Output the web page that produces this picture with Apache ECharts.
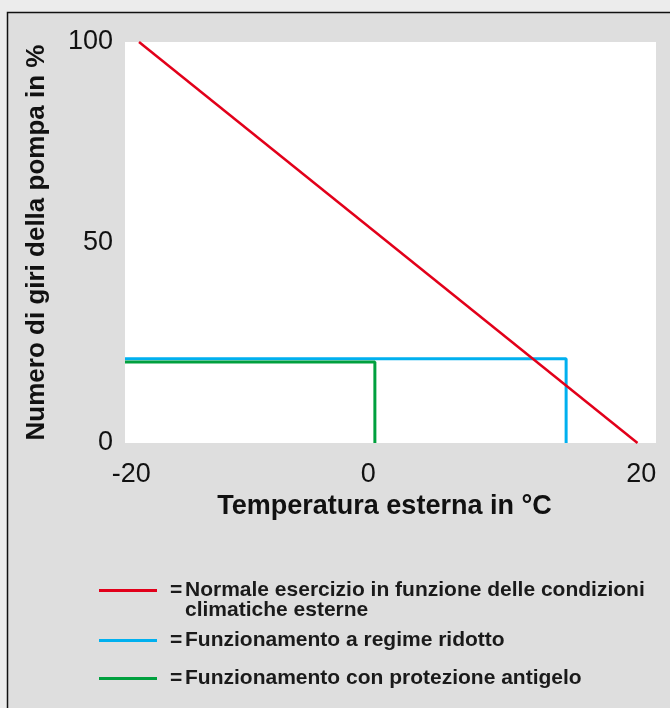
<!DOCTYPE html>
<html>
<head>
<meta charset="utf-8">
<script src="https://cdn.jsdelivr.net/npm/echarts@6/dist/echarts.min.js"></script>
<style>
html,body{margin:0;padding:0;background:#ececec;}
#c{width:670px;height:708px;}
</style>
</head>
<body>
<div id="c"></div>
<script>
// ---- data ----
const xTickLabels = [-20, 0, 20];
const yTickLabels = [0, 50, 100];
const seriesNames = [
  'Normale esercizio in funzione delle condizioni climatiche esterne',
  'Funzionamento a regime ridotto',
  'Funzionamento con protezione antigelo'
];
// temperature (°C), pump speed (%)
const normalX = [-19.4, 19.7];
const normalY = [100, 0];
const reducedX = [-20.5, 14.1, 14.1];
const reducedY = [21, 21, 0];
const antifreezeX = [-20.5, -0.9, -0.9];
const antifreezeY = [20.2, 20.2, 0];

const pairs = (xs, ys) => xs.map((x, i) => [x, ys[i]]);

const colors = ['#e2001a', '#00b0ef', '#00a03e'];
const FONT = '"Liberation Sans", Arial, sans-serif';

const chart = echarts.init(document.getElementById('c'));
const LFS = 21, LLH = 20;
const legendRich = {
  eq: { width: 15, padding: [0, 0, 0, 8], fontSize: LFS, fontWeight: 'bold', color: '#1a1a1a', fontFamily: FONT, lineHeight: LLH },
  t: { fontSize: LFS, fontWeight: 'bold', color: '#1a1a1a', fontFamily: FONT, lineHeight: LLH }
};
const legendText = {};
legendText[seriesNames[0]] = '\n{eq|=}{t|Normale esercizio in funzione delle condizioni}\n{eq| }{t|climatiche esterne}';
legendText[seriesNames[1]] = '{eq|=}{t|Funzionamento a regime ridotto}';
legendText[seriesNames[2]] = '{eq|=}{t|Funzionamento con protezione antigelo}';

function mkLegend(name, top) {
  return {
    data: [name],
    orient: 'vertical',
    left: 99,
    top: top,
    itemWidth: 58,
    itemHeight: 3,
    icon: 'rect',
    padding: 0,
    itemGap: 0,
    selectedMode: false,
    formatter: n => legendText[n],
    textStyle: { rich: legendRich, lineHeight: LLH, fontSize: LFS }
  };
}

chart.setOption({
  backgroundColor: '#ececec',
  animation: false,
  graphic: [{
    type: 'rect', z: -10,
    shape: { x: 7.5, y: 12.5, width: 720, height: 760 },
    style: { fill: '#dedede', stroke: '#111', lineWidth: 1.5 }
  }],
  grid: { left: 125, right: 14, top: 42, bottom: 265, show: true, backgroundColor: '#fff', borderWidth: 0 },
  xAxis: {
    type: 'value', min: -20.5, max: 21.15,
    name: 'Temperatura esterna in °C', nameLocation: 'middle', nameGap: 49,
    nameTextStyle: { fontSize: 27, fontWeight: 'bold', color: '#111', fontFamily: FONT, padding: [0, 12, 0, 0] },
    axisLine: { show: false }, axisTick: { show: false }, splitLine: { show: false },
    axisLabel: {
      customValues: xTickLabels, margin: 18, fontSize: 27, color: '#111', fontFamily: FONT,
      formatter: v => v === 0 ? '{z|0}' : String(v),
      rich: { z: { fontSize: 27, color: '#111', fontFamily: FONT, padding: [0, 36, 0, 0] } }
    }
  },
  yAxis: {
    type: 'value', min: 0, max: 100,
    name: 'Numero di giri della pompa in %', nameLocation: 'middle', nameGap: 75, nameRotate: 90,
    nameTextStyle: { fontSize: 26, fontWeight: 'bold', color: '#111', fontFamily: FONT },
    axisLine: { show: false }, axisTick: { show: false }, splitLine: { show: false },
    axisLabel: { customValues: yTickLabels, margin: 12, fontSize: 27, color: '#111', fontFamily: FONT, padding: [4, 0, 0, 0] }
  },
  legend: [mkLegend(seriesNames[0], 560), mkLegend(seriesNames[1], 630), mkLegend(seriesNames[2], 668)],
  series: [
    { name: seriesNames[0], type: 'line', data: pairs(normalX, normalY), symbol: 'none', lineStyle: { color: colors[0], width: 2.5 }, itemStyle: { color: colors[0] }, z: 3 },
    { name: seriesNames[1], type: 'line', data: pairs(reducedX, reducedY), symbol: 'none', lineStyle: { color: colors[1], width: 3 }, itemStyle: { color: colors[1] }, z: 2 },
    { name: seriesNames[2], type: 'line', data: pairs(antifreezeX, antifreezeY), symbol: 'none', lineStyle: { color: colors[2], width: 3 }, itemStyle: { color: colors[2] }, z: 2 }
  ]
});
</script>
</body>
</html>
